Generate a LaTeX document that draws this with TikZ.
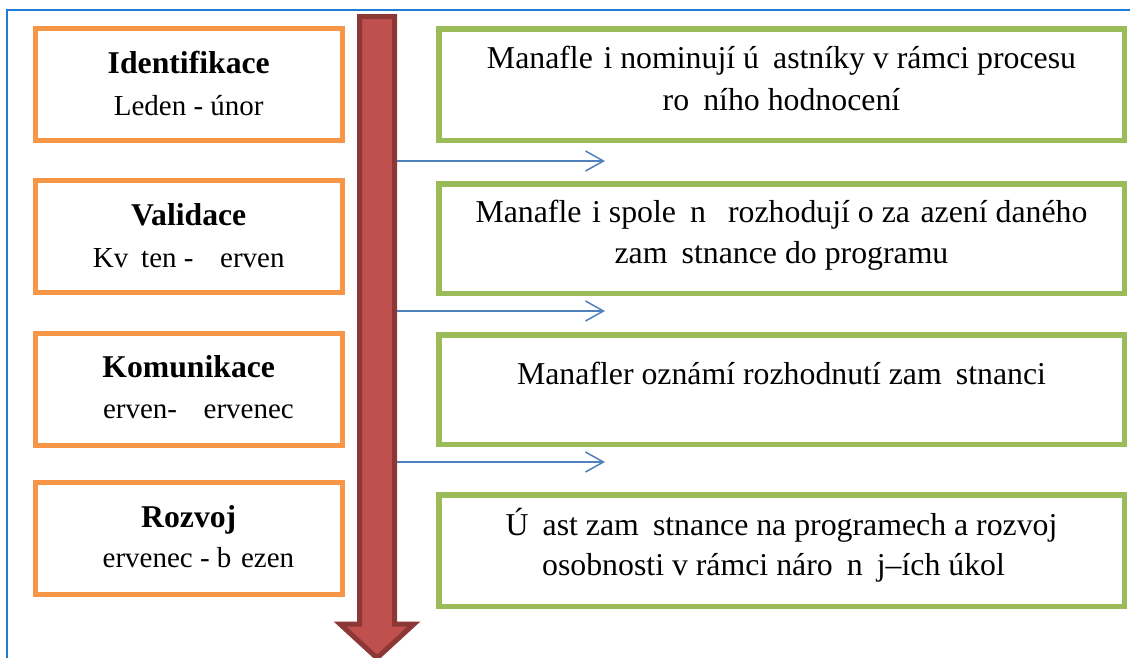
\documentclass[tikz,border=0pt]{standalone}
\usepackage{fontspec}
\setmainfont{Liberation Serif}
\usetikzlibrary{arrows.meta}
\definecolor{frameblue}{RGB}{30,125,210}
\definecolor{boxorange}{RGB}{247,150,70}
\definecolor{boxgreen}{RGB}{155,187,89}
\definecolor{arrowred}{RGB}{192,80,77}
\definecolor{arrowdark}{RGB}{140,56,54}
\definecolor{flowblue}{RGB}{79,129,189}
\begin{document}
\begin{tikzpicture}[x=1pt,y=-1pt,
  obox/.style={draw=boxorange, fill=white, line width=5pt, minimum width=307.5pt, minimum height=112pt, inner sep=0pt},
  gbox/.style={draw=boxgreen, fill=white, line width=5.5pt, minimum width=685.5pt, minimum height=110.5pt, inner sep=0pt},
  otitle/.style={anchor=base, inner sep=0pt, font=\fontsize{31.7}{38}\selectfont\bfseries},
  osub/.style={anchor=base, inner sep=0pt, font=\fontsize{29}{35}\selectfont},
  gtext/.style={anchor=base, inner sep=0pt, font=\fontsize{31.8}{42}\selectfont},
  flow/.style={draw=flowblue, line width=1.5pt, -{Straight Barb[length=18pt,width=20pt]}},
  bigarrow/.style={fill=arrowred, draw=arrowdark, line width=5pt, line join=miter}
]
\useasboundingbox[fill=white] (0,0) rectangle (1130,657);
% outer frame
\draw[frameblue, line width=1.6pt] (7,10) rectangle (1145,675);
% big red arrow
\draw[bigarrow] (359.5,16.5) -- (394.5,16.5) -- (394.5,624) -- (414,624) -- (377,658) -- (340,624) -- (359.5,624) -- cycle;
\coordinate (s1) at (396.5,161);
\coordinate (s2) at (396.5,311);
\coordinate (s3) at (396.5,462);
\coordinate (t1) at (605,161);
\coordinate (t2) at (605,311);
\coordinate (t3) at (605,462);
% orange boxes
\node[obox] (o1) at (188.75,84.5) {};
\node[obox] (o2) at (188.75,236.5) {};
\node[obox] (o3) at (188.75,389.5) {};
\node[obox] (o4) at (188.75,538.5) {};
\node[otitle] (o1a) at (188.75,73) {Identifikace};
\node[osub] (o1b) at (188.75,115) {Leden - únor};
\node[otitle] (o2a) at (188.75,225) {Validace};
\node[osub] (o2b) at (188.75,267) {Kv\phantom{ě}ten - \phantom{Č}erven};
\node[otitle] (o3a) at (188.75,377) {Komunikace};
\node[osub] (o3b) at (188.75,418) {\phantom{Č}erven- \phantom{Č}ervenec};
\node[otitle] (o4a) at (188.75,527) {Rozvoj};
\node[osub] (o4b) at (188.75,567) {\phantom{Č}ervenec - b\phantom{ř}ezen};
% green boxes
\node[gbox, minimum height=111.5pt] (g1) at (781.5,84.5) {};
\node[gbox, minimum height=109.5pt] (g2) at (781.5,238.5) {};
\node[gbox, minimum height=109.5pt] (g3) at (781.5,389.5) {};
\node[gbox, minimum height=111.5pt] (g4) at (781.5,550.5) {};
\node[gtext] (g1a) at (781.5,68) {Manafle\phantom{ř}i nominují ú\phantom{č}astníky v rámci procesu};
\node[gtext] (g1b) at (781.5,110) {ro\phantom{č}ního hodnocení};
\node[gtext] (g2a) at (781.5,222) {Manafle\phantom{ř}i spole\phantom{č}n\phantom{ě} rozhodují o za\phantom{ř}azení daného};
\node[gtext] (g2b) at (781.5,263) {zam\phantom{ě}stnance do programu};
\node[gtext] (g3a) at (781.5,384) {Manafler oznámí rozhodnutí zam\phantom{ě}stnanci};
\node[gtext] (g4a) at (781.5,535) {Ú\phantom{č}ast zam\phantom{ě}stnance na programech a rozvoj};
\node[gtext] (g4b) at (781.5,575) {osobnosti v rámci náro\phantom{č}n\phantom{ě}j–ích úkol\phantom{ů}};
% connectors
\draw[flow] (s1) -- (t1);
\draw[flow] (s2) -- (t2);
\draw[flow] (s3) -- (t3);
\end{tikzpicture}
\end{document}
